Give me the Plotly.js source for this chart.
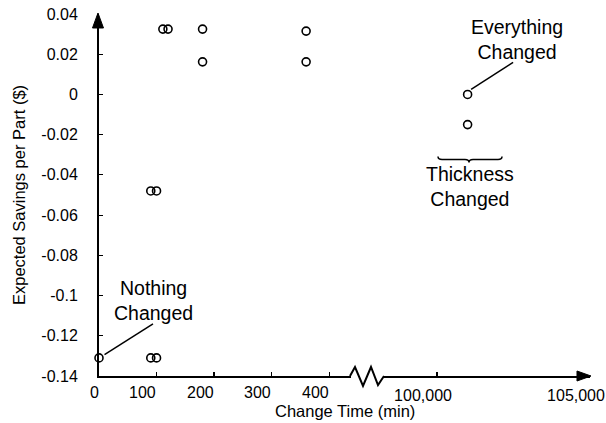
<!DOCTYPE html>
<html><head><meta charset="utf-8">
<script src="https://cdn.plot.ly/plotly-3.0.1.min.js"></script>
<style>html,body{margin:0;padding:0;background:#fff}#chart{width:606px;height:423px}</style>
</head><body><div id="chart"></div>
<script>
// ---- data ----
const shortTimes = [0, 90, 100, 90, 100, 111, 120, 180, 180, 360, 360];
const shortSavings = [-0.131, -0.131, -0.131, -0.048, -0.048, 0.0325, 0.0325, 0.0325, 0.0162, 0.0315, 0.0162];
const longTimes = [101000, 101000];
const longSavings = [0, -0.015];
const shortTickVals = [0, 100, 200, 300, 400];
const shortTickText = ['0', '100', '200', '300', '400'];
const longTickVals = [100000, 105000];
const longTickText = ['100,000', '105,000'];
const yTickVals = [0.04, 0.02, 0, -0.02, -0.04, -0.06, -0.08, -0.1, -0.12, -0.14];
const yTickText = ['0.04', '0.02', '0', '-0.02', '-0.04', '-0.06', '-0.08', '-0.1', '-0.12', '-0.14'];

// ---- layout geometry ----
const W = 606, H = 423;
const M = {l: 99, r: 16, t: 14, b: 47};
const PW = W - M.l - M.r, PH = H - M.t - M.b;
const px = v => (v - M.l) / PW;      // pixel -> paper x
const py = v => (H - M.b - v) / PH;  // pixel -> paper y
const FONT = 'Liberation Sans, Arial, sans-serif';
const tickFont = {family: FONT, size: 16, color: '#000'};
const noteFont = {family: FONT, size: 19.5, color: '#000'};

const marker = {symbol: 'circle-open', size: 8, color: '#000', line: {width: 1.6, color: '#000'}};
const traces = [
  {x: shortTimes, y: shortSavings, xaxis: 'x', yaxis: 'y', type: 'scatter', mode: 'markers', marker: marker, cliponaxis: false, showlegend: false},
  {x: longTimes, y: longSavings, xaxis: 'x2', yaxis: 'y', type: 'scatter', mode: 'markers', marker: marker, cliponaxis: false, showlegend: false}
];

function pathFromPx(pts) {
  return pts.map((p, i) => (i ? 'L' : 'M') + px(p[0]).toFixed(5) + ',' + py(p[1]).toFixed(5)).join(' ') ;
}

const shapes = [
  // axis break zigzag
  {type: 'path', xref: 'paper', yref: 'paper', line: {color: '#000', width: 2},
   path: pathFromPx([[350, 376], [355, 367], [363, 386], [371, 367], [378, 385], [384, 376]])},
  // y-axis arrowhead
  {type: 'path', xref: 'paper', yref: 'paper', fillcolor: '#000', line: {color: '#000', width: 1},
   path: pathFromPx([[98, 13], [92.5, 28], [103.5, 28]]) + ' Z'},
  // x-axis arrowhead
  {type: 'path', xref: 'paper', yref: 'paper', fillcolor: '#000', line: {color: '#000', width: 1},
   path: pathFromPx([[591, 376], [577, 371], [577, 381]]) + ' Z'},
  // leader line: Nothing Changed
  {type: 'line', xref: 'x', yref: 'y', xsizemode: 'pixel', ysizemode: 'pixel',
   xanchor: shortTimes[0], yanchor: shortSavings[0], x0: 5.5, x1: 54, y0: 3.3, y1: 34,
   line: {color: '#000', width: 1.5}},
  // leader line: Everything Changed
  {type: 'line', xref: 'x2', yref: 'y', xsizemode: 'pixel', ysizemode: 'pixel',
   xanchor: longTimes[0], yanchor: longSavings[0], x0: 3.5, x1: 45.5, y0: 5, y1: 32,
   line: {color: '#000', width: 1.5}},
  // brace under the thickness-changed points
  {type: 'path', xref: 'x2', yref: 'y', xsizemode: 'pixel', ysizemode: 'pixel',
   xanchor: longTimes[1], yanchor: longSavings[1], line: {color: '#000', width: 1.5},
   path: 'M -29.6,-32 Q -29.6,-35 -25.6,-35 L -2.6,-35 Q 1.4,-35 1.4,-38 Q 1.4,-35 5.4,-35 L 30.4,-35 Q 34.4,-35 34.4,-32'}
];

const annotations = [];
shortTickVals.forEach((v, i) => annotations.push({
  x: v, xref: 'x', y: 0, yref: 'paper', xanchor: 'right', yanchor: 'top', xshift: 1.5, yshift: -6,
  text: shortTickText[i], showarrow: false, font: tickFont
}));
annotations.push({x: 0.5, xref: 'paper', y: 0, yref: 'paper', yanchor: 'top', yshift: -24,
  text: 'Change Time (min)', showarrow: false, font: {family: FONT, size: 16.5, color: '#000'}});
annotations.push({x: shortTimes[0], y: shortSavings[0], xref: 'x', yref: 'y', xshift: 54, yshift: 57,
  text: 'Nothing<br>Changed', showarrow: false, font: noteFont});
annotations.push({x: longTimes[0], y: longSavings[0], xref: 'x2', yref: 'y', xshift: 49, yshift: 55,
  text: 'Everything<br>Changed', showarrow: false, font: noteFont});
annotations.push({x: longTimes[1], y: longSavings[1], xref: 'x2', yref: 'y', xshift: 2.5, yshift: -62,
  text: 'Thickness<br>Changed', showarrow: false, font: noteFont});

const axisCommon = {showline: true, linecolor: '#000', linewidth: 2, ticks: 'inside', ticklen: 4,
  tickwidth: 1.2, tickcolor: '#000', showgrid: false, zeroline: false, fixedrange: true};

const layout = {
  width: W, height: H, margin: M, paper_bgcolor: '#fff', plot_bgcolor: '#fff',
  font: {family: FONT, color: '#000'},
  xaxis: Object.assign({}, axisCommon, {domain: [0, px(351)], range: [0, 438], anchor: 'y',
    tickmode: 'array', tickvals: shortTickVals, showticklabels: false}),
  xaxis2: Object.assign({}, axisCommon, {domain: [px(383), 1], range: [98235, 105000], anchor: 'y',
    tickmode: 'array', tickvals: longTickVals, ticktext: longTickText, tickfont: tickFont,
    ticklabelshift: -14, ticklabelstandoff: 4}),
  yaxis: Object.assign({}, axisCommon, {range: [-0.14, 0.04], anchor: 'x',
    tickmode: 'array', tickvals: yTickVals, ticktext: yTickText, tickfont: tickFont,
    ticklabelstandoff: 16,
    title: {text: 'Expected Savings per Part ($)', font: {family: FONT, size: 16.5, color: '#000'}, standoff: 12}}),
  shapes: shapes,
  annotations: annotations,
  showlegend: false
};

Plotly.newPlot('chart', traces, layout, {staticPlot: true, displayModeBar: false});
</script>
</body></html>
